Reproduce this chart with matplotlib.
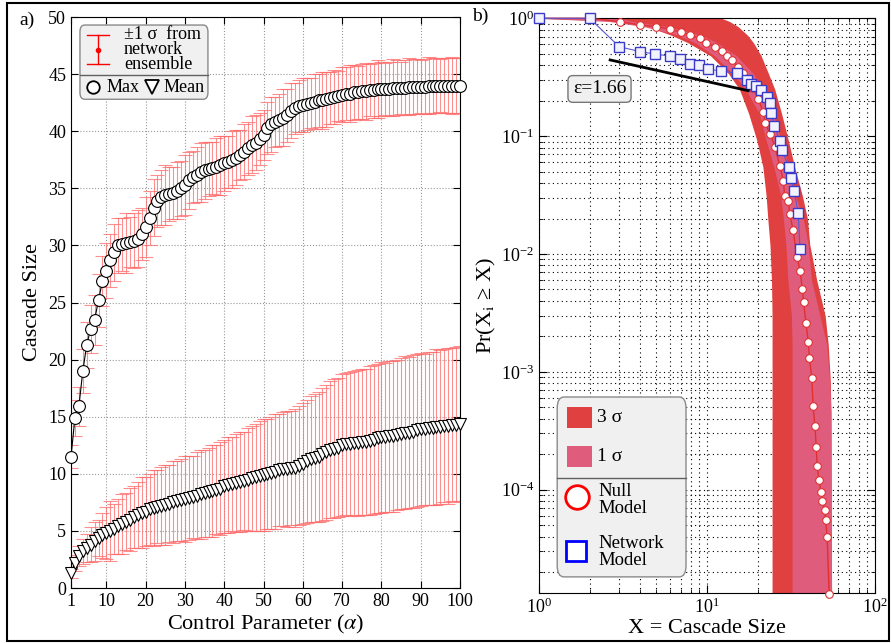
import matplotlib
matplotlib.use("Agg")
import matplotlib.pyplot as plt
from matplotlib.patches import FancyBboxPatch, Rectangle
from matplotlib.lines import Line2D
from matplotlib.ticker import LogLocator, NullFormatter, LogFormatterMathtext

plt.rcParams["font.family"] = ["Liberation Serif", "DejaVu Serif"]
plt.rcParams["mathtext.fontset"] = "stix"
plt.rcParams["axes.unicode_minus"] = False

# ── PANEL a) DATA: cascade size vs control parameter ─────────
alpha_vals = list(range(1, 101))

max_size = [11.5, 14.9, 15.9, 19.0, 21.3, 22.7, 23.5, 25.2, 26.9, 27.8,
            28.7, 29.4, 30.0, 30.1, 30.2, 30.3, 30.4, 30.6, 31.0, 31.6,
            32.4, 33.3, 33.9, 34.2, 34.4, 34.5, 34.6, 34.8, 35.0, 35.3,
            35.7, 36.0, 36.2, 36.4, 36.6, 36.7, 36.8, 36.9, 37.0, 37.2,
            37.3, 37.5, 37.7, 37.9, 38.2, 38.5, 38.8, 39.0, 39.3, 39.7,
            40.3, 40.6, 40.8, 41.0, 41.2, 41.4, 41.8, 42.0, 42.2, 42.3,
            42.4, 42.5, 42.6, 42.7, 42.7, 42.8, 42.9, 43.0, 43.1, 43.2,
            43.3, 43.3, 43.4, 43.4, 43.5, 43.5, 43.6, 43.6, 43.7, 43.7,
            43.7, 43.7, 43.8, 43.8, 43.8, 43.8, 43.9, 43.9, 43.9, 43.9,
            43.9, 44.0, 44.0, 44.0, 44.0, 44.0, 44.0, 44.0, 44.0, 44.0]

max_std = [1.0, 1.6, 1.7, 1.9, 2.0, 2.1, 2.2, 2.3, 2.2, 2.4,
           2.3, 2.5, 2.4, 2.3, 2.6, 2.2, 2.4, 2.5, 2.3, 2.6,
           2.4, 2.5, 2.3, 2.4, 2.6, 2.4, 2.3, 2.5, 2.4, 2.6,
           2.5, 2.3, 2.4, 2.6, 2.5, 2.4, 2.3, 2.5, 2.6, 2.4,
           2.3, 2.5, 2.4, 2.2, 2.4, 2.3, 2.5, 2.4, 2.3, 2.2,
           2.3, 2.4, 2.2, 2.3, 2.5, 2.3, 2.4, 2.2, 2.3, 2.4,
           2.3, 2.2, 2.4, 2.3, 2.5, 2.4, 2.3, 2.4, 2.2, 2.4,
           2.3, 2.5, 2.4, 2.3, 2.4, 2.5, 2.3, 2.4, 2.5, 2.4,
           2.3, 2.4, 2.5, 2.4, 2.3, 2.4, 2.5, 2.4, 2.4, 2.3,
           2.4, 2.5, 2.4, 2.4, 2.3, 2.4, 2.4, 2.5, 2.4, 2.4]

mean_size = [1.3, 2.2, 2.8, 3.2, 3.5, 3.8, 4.1, 4.4, 4.6, 4.8,
             5.0, 5.2, 5.4, 5.6, 5.8, 6.0, 6.2, 6.4, 6.6, 6.7,
             6.9, 7.0, 7.1, 7.2, 7.3, 7.4, 7.5, 7.6, 7.7, 7.8,
             7.9, 8.0, 8.1, 8.2, 8.3, 8.4, 8.5, 8.6, 8.7, 8.9,
             9.0, 9.1, 9.2, 9.3, 9.4, 9.5, 9.6, 9.7, 9.8, 9.9,
             10.0, 10.1, 10.2, 10.3, 10.4, 10.4, 10.5, 10.5, 10.7, 10.9,
             11.1, 11.3, 11.4, 11.5, 11.7, 11.9, 12.1, 12.2, 12.3, 12.5,
             12.6, 12.6, 12.7, 12.7, 12.8, 12.8, 12.9, 13.0, 13.1, 13.2,
             13.2, 13.3, 13.3, 13.4, 13.5, 13.6, 13.6, 13.7, 13.8, 13.9,
             13.9, 14.0, 14.0, 14.1, 14.1, 14.2, 14.2, 14.3, 14.3, 14.4]

mean_std = [0.4, 0.7, 0.9, 1.1, 1.2, 1.5, 1.7, 1.6, 2.0, 2.3,
            2.6, 2.2, 2.4, 2.6, 2.5, 2.8, 2.7, 2.9, 3.1, 3.0,
            3.1, 3.3, 3.2, 3.4, 3.5, 3.4, 3.6, 3.5, 3.6, 3.8,
            3.7, 3.6, 3.8, 3.9, 3.8, 3.9, 4.0, 3.9, 4.1, 4.1,
            4.2, 4.1, 4.3, 4.4, 4.3, 4.5, 4.6, 4.7, 4.8, 4.9,
            4.8, 4.9, 5.0, 4.9, 5.0, 5.1, 5.0, 5.2, 5.2, 5.3,
            5.4, 5.5, 5.6, 5.7, 5.8, 5.9, 6.0, 6.1, 6.1, 6.2,
            6.2, 6.3, 6.3, 6.4, 6.4, 6.4, 6.5, 6.5, 6.5, 6.6,
            6.5, 6.6, 6.6, 6.6, 6.6, 6.7, 6.6, 6.7, 6.7, 6.7,
            6.6, 6.7, 6.7, 6.8, 6.7, 6.7, 6.8, 6.7, 6.8, 6.8]

x_ticks_a = [1, 10, 20, 30, 40, 50, 60, 70, 80, 90, 100]
y_ticks_a = [0, 5, 10, 15, 20, 25, 30, 35, 40, 45, 50]

# ── PANEL b) DATA: cascade size distributions (CCDF) ─────────
null_x = [1, 2, 3.03, 3.99, 5.0, 6.03, 7.0, 7.9, 9.06, 9.9, 11.2, 12.2, 13.1,
          14.0, 15.3, 16.4, 17.5, 18.8, 20.2, 21.6, 22.2, 23.7, 25.4, 27.1,
          28.5, 29.0, 30.5, 31.1, 32.5, 34.3, 35.8, 37.0, 37.6, 38.8, 40.1,
          40.7, 42.1, 42.8, 43.9, 44.7, 45.3, 46.3, 47.8, 48.6, 50.2, 50.9,
          51.9, 53.4]
null_p = [1.0, 1.0, 0.937, 0.877, 0.85, 0.806, 0.76, 0.72, 0.676, 0.62, 0.574,
          0.53, 0.478, 0.442, 0.388, 0.34, 0.30, 0.254, 0.208, 0.16, 0.128,
          0.105, 0.081, 0.056, 0.042, 0.031, 0.028, 0.0219, 0.0161, 0.0094,
          0.0072, 0.0050, 0.0039, 0.0026, 0.0018, 0.00131, 0.00088, 0.00051,
          0.00035, 0.00023, 0.000159, 0.000122, 9.5e-5, 8.0e-5, 6.7e-5,
          5.5e-5, 4.0e-5, 1.3e-5]

net_x = [1, 2, 3, 4, 4.9, 6, 6.9, 7.9, 8.9, 10.1, 12.1, 15, 17.2, 18.4, 19.7,
         21.1, 22.7, 23.7, 24.0, 25.2, 27.1, 27.8, 30.6, 31.6, 33.0, 34.9, 35.8]
net_p = [1.0, 1.0, 0.574, 0.521, 0.497, 0.478, 0.45, 0.41, 0.40, 0.368, 0.359,
         0.34, 0.30, 0.276, 0.266, 0.245, 0.216, 0.19, 0.158, 0.122, 0.091,
         0.077, 0.055, 0.044, 0.034, 0.0223, 0.011]

# sigma bands of the null model: x extent at each probability level
band_p = [1.0, 0.94, 0.85, 0.72, 0.62, 0.48, 0.34, 0.25, 0.155, 0.092, 0.055,
          0.031, 0.02, 0.012, 0.006, 0.003, 0.0017, 0.00085, 0.00045, 1e-5]
band3_lo = [1.0, 3.3, 4.4, 6.1, 7.7, 10.5, 13.4, 15.6, 17.7, 19.8, 21.5, 22.5,
            23.0, 23.7, 24.2, 24.4, 24.4, 24.4, 24.4, 24.4]
band3_hi = [12.2, 13.6, 15.3, 17.4, 18.9, 21.0, 23.2, 25.3, 27.8, 30.5, 33.2,
            37.0, 39.6, 40.9, 45.0, 50.5, 52.7, 54.2, 54.7, 55.2]
band1_lo = [1.0, 2.6, 4.2, 6.7, 8.5, 11.1, 14.2, 17.0, 20.5, 22.5, 25.0, 27.5,
            28.5, 29.5, 30.3, 31.8, 32.1, 32.1, 32.1, 32.1]
band1_hi = [3.0, 3.6, 5.8, 9.2, 11.5, 15.0, 18.8, 21.5, 24.8, 27.6, 30.5, 33.5,
            37.4, 40.0, 41.9, 47.0, 51.6, 53.7, 54.7, 55.2]

eps_x = [2.65, 17.6]
eps_y = [0.443, 0.243]

RED3 = "#e0403f"
RED1 = "#e05c7c"
BAR_RED = "#ff6a6a"

fig = plt.figure(figsize=(8.91, 6.43), dpi=100)

# ── PANEL a) ──────────────────────────────────────────────────
ax1 = fig.add_axes([0.0797, 0.0855, 0.4366, 0.888])

ax1.errorbar(alpha_vals, max_size, yerr=max_std, fmt="none", ecolor=BAR_RED,
             elinewidth=0.8, capsize=5, capthick=0.8, alpha=0.75, zorder=2)
ax1.errorbar(alpha_vals, mean_size, yerr=mean_std, fmt="none", ecolor=BAR_RED,
             elinewidth=0.8, capsize=5, capthick=0.8, alpha=0.75, zorder=2)

ax1.plot(alpha_vals, max_size, color="black", lw=0.8, marker="o", ms=8.5,
         mfc="white", mec="black", mew=0.8, zorder=3, clip_on=False)
ax1.plot(alpha_vals, mean_size, color="black", lw=0.8, marker="v", ms=9,
         mfc="white", mec="black", mew=0.8, zorder=3, clip_on=False)

ax1.set_xlim(1, 100)
ax1.set_ylim(0, 50)
ax1.set_xticks(x_ticks_a)
ax1.set_yticks(y_ticks_a)
ax1.tick_params(direction="in", top=True, right=True, labelsize=13, length=5)
ax1.grid(True, ls=":", color="#999999", lw=0.8)
ax1.set_axisbelow(True)
ax1.set_xlabel(r"Control Parameter ($\alpha$)", fontsize=16, labelpad=2)
ax1.set_ylabel("Cascade Size", fontsize=16, labelpad=4)

# legend box for panel a
leg_a = FancyBboxPatch((0.023, 0.856), 0.329, 0.130,
                       boxstyle="round,pad=0,rounding_size=0.012",
                       transform=ax1.transAxes, fc="#f0f0f0", ec="#8a8a8a",
                       lw=1, zorder=5)
ax1.add_patch(leg_a)
ax1.add_line(Line2D([0.023, 0.352], [0.898, 0.898], transform=ax1.transAxes,
                    color="#606060", lw=1, zorder=6))
ax1.add_line(Line2D([0.069, 0.069], [0.918, 0.968], transform=ax1.transAxes,
                    color="red", lw=1, zorder=6))
for yy in (0.918, 0.968):
    ax1.add_line(Line2D([0.041, 0.097], [yy, yy], transform=ax1.transAxes,
                        color="red", lw=1, zorder=6))
ax1.plot([0.069], [0.943], transform=ax1.transAxes, marker="o", ms=3,
         color="red", zorder=6, clip_on=False)
ax1.text(0.136, 0.943, "±1 σ  from\nnetwork\nensemble", transform=ax1.transAxes,
         fontsize=13, va="center", ha="left", linespacing=0.84, zorder=7)
ax1.plot([0.056], [0.877], transform=ax1.transAxes, marker="o", ms=9,
         mfc="white", mec="black", mew=1.3, zorder=7, clip_on=False)
ax1.text(0.09, 0.877, "Max", transform=ax1.transAxes, fontsize=13,
         va="center", ha="left", zorder=7)
ax1.plot([0.207], [0.877], transform=ax1.transAxes, marker="v", ms=10,
         mfc="white", mec="black", mew=1.3, zorder=7, clip_on=False)
ax1.text(0.237, 0.877, "Mean", transform=ax1.transAxes, fontsize=13,
         va="center", ha="left", zorder=7)

# ── PANEL b) ──────────────────────────────────────────────────
ax2 = fig.add_axes([0.605, 0.0778, 0.377, 0.8938])
ax2.set_xscale("log")
ax2.set_yscale("log")

ax2.fill_betweenx(band_p, band3_lo, band3_hi, color=RED3, lw=0, zorder=1)
ax2.fill_betweenx(band_p, band1_lo, band1_hi, color=RED1, lw=0, zorder=1.5)

ax2.plot(null_x, null_p, color="#e03030", lw=1, marker="o", ms=5.5,
         mfc="white", mec="#e03030", mew=0.8, zorder=3, clip_on=False)
ax2.plot(net_x, net_p, color="#5a5ad6", lw=0.8, marker="s", ms=7.5,
         mfc="#f2f2ff", mec="#3a3ac8", mew=1.0, zorder=4, clip_on=False)
ax2.plot(eps_x, eps_y, color="black", lw=2, zorder=5)
ax2.text(0.18, 0.877, "ε=1.66", transform=ax2.transAxes, fontsize=14,
         ha="center", va="center", zorder=6,
         bbox=dict(boxstyle="round,pad=0.25", fc="#f0f0f0", ec="#777777"))

ax2.set_xlim(1, 100)
ax2.set_ylim(1.33e-5, 1.0)
ax2.xaxis.set_major_locator(LogLocator(base=10, numticks=5))
ax2.xaxis.set_minor_locator(LogLocator(base=10, subs=range(2, 10), numticks=10))
ax2.yaxis.set_major_locator(LogLocator(base=10, numticks=10))
ax2.yaxis.set_minor_locator(LogLocator(base=10, subs=range(2, 10), numticks=20))
ax2.xaxis.set_major_formatter(LogFormatterMathtext())
ax2.yaxis.set_major_formatter(LogFormatterMathtext())
ax2.xaxis.set_minor_formatter(NullFormatter())
ax2.yaxis.set_minor_formatter(NullFormatter())
ax2.tick_params(which="both", direction="in", top=True, right=True)
ax2.tick_params(which="major", length=6, labelsize=13)
ax2.tick_params(which="minor", length=3)
ax2.grid(True, which="both", ls=(0, (1, 3)), color="black", lw=0.8)
ax2.set_axisbelow(True)
ax2.set_xlabel("X = Cascade Size", fontsize=16, labelpad=1)
ax2.set_ylabel(r"Pr(X$_{\rm i}$ ≥ X)", fontsize=16, labelpad=2)

# legend box for panel b
leg_b = FancyBboxPatch((0.054, 0.028), 0.3835, 0.313,
                       boxstyle="round,pad=0,rounding_size=0.02",
                       transform=ax2.transAxes, fc="#f0f0f0", ec="#8a8a8a",
                       lw=1, zorder=7)
ax2.add_patch(leg_b)
ax2.add_line(Line2D([0.054, 0.4375], [0.2, 0.2], transform=ax2.transAxes,
                    color="#606060", lw=1, zorder=8))
ax2.add_patch(Rectangle((0.083, 0.287), 0.074, 0.0365, transform=ax2.transAxes,
                        fc=RED3, ec="none", zorder=8))
ax2.add_patch(Rectangle((0.083, 0.220), 0.074, 0.0365, transform=ax2.transAxes,
                        fc=RED1, ec="none", zorder=8))
ax2.text(0.173, 0.306, "3 σ", transform=ax2.transAxes, fontsize=14,
         va="center", ha="left", zorder=9)
ax2.text(0.173, 0.238, "1 σ", transform=ax2.transAxes, fontsize=14,
         va="center", ha="left", zorder=9)
ax2.plot([0.113], [0.167], transform=ax2.transAxes, marker="o", ms=17,
         mfc="white", mec="red", mew=2, zorder=9, clip_on=False)
ax2.text(0.176, 0.162, "Null\nModel", transform=ax2.transAxes, fontsize=13.5,
         va="center", ha="left", linespacing=1.05, zorder=9)
ax2.plot([0.11], [0.073], transform=ax2.transAxes, marker="s", ms=15,
         mfc="white", mec="blue", mew=2, zorder=9, clip_on=False)
ax2.text(0.176, 0.071, "Network\nModel", transform=ax2.transAxes, fontsize=13.5,
         va="center", ha="left", linespacing=1.05, zorder=9)

# panel labels and outer frame
fig.text(0.030, 0.969, "a)", fontsize=14, ha="center", va="center")
fig.text(0.539, 0.974, "b)", fontsize=14, ha="center", va="center")
fig.add_artist(Rectangle((0.0079, 0.0031), 0.9894, 0.9917, transform=fig.transFigure,
                         fill=False, ec="black", lw=1.5))

fig.savefig("out.png", dpi=100)
